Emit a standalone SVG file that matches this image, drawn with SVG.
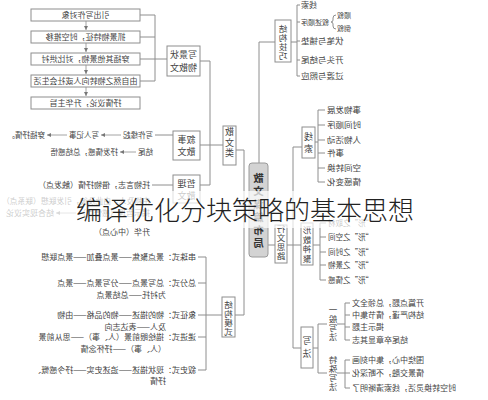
<svg xmlns="http://www.w3.org/2000/svg" width="488" height="400" viewBox="0 0 488 400">
<defs>
<style>
.b{fill:#fff;stroke:#8e8e8e;stroke-width:1}
.ctr{fill:#d3d3d3;stroke:#9a9a9a;stroke-width:1}
.c{fill:none;stroke:#8e8e8e;stroke-width:1}
.a{fill:none;stroke:#8e8e8e;stroke-width:0.8;marker-end:url(#ah)}
text{font-family:"Noto Sans CJK SC","Noto Sans",sans-serif;fill:#444;font-size:8px}
.m{text-anchor:middle}
.e{text-anchor:end}
.v{writing-mode:vertical-rl;text-orientation:upright;text-anchor:middle}
.s7{font-size:7px}
.s75{font-size:7.5px}
.s85{font-size:8.5px}
.s9{font-size:9px}
.big{font-size:10.5px;font-weight:700;fill:#333}
</style>
<marker id="ah" viewBox="0 0 6 6" refX="6" refY="3" markerWidth="4" markerHeight="4" markerUnits="userSpaceOnUse" orient="auto"><path d="M0,0L6,3L0,6z" fill="#777"/></marker>
</defs>
<rect width="488" height="400" fill="#fff"/>
<g transform="matrix(-1 0 0 1 488 0)">
<g id="connectors">
<path class="c" d="M348,15H333M348,37H333M348,59H321M348,81H333M333,15V81"/>
<path class="a" d="M402,21V30"/><path class="a" d="M402,43V52"/><path class="a" d="M402,65V74"/><path class="a" d="M402,87V96"/>
<path class="c" d="M288,61H278M278,61V185M288,145H265M288,185H278"/>
<path class="c" d="M252,150H244M244,150V315M244,210H239M253,315H244"/>
<path class="c" d="M229,42V163M229,42H213"/>
<path class="c" d="M197,42H191M191,5V76M191,5H188M191,22H188M191,41H188M191,60H188M191,76H188"/>
<path class="c" d="M152,15Q155,15 155,18V20Q155,22 157,22Q155,22 155,24V26Q155,29 152,29" stroke-width="0.8"/>
<path class="c" d="M220,245H213M201,245H187M195,147V348M195,147H186M195,348H187"/>
<path class="c" d="M173,142H170M170,110V182M170,110H163M170,125H163M170,140H163M170,153H163M170,168H163M170,182H163"/>
<path class="c" d="M175,245H168M168,223V280M168,223H162M168,237H162M168,252H162M168,265H162M168,280H162"/>
<path class="c" d="M175,348H170M170,324V373M170,324H161M170,373H161M151,324H143M151,373H143M143,303V340M143,360V388M143,303H138M143,315H138M143,327H138M143,340H138M143,360H138M143,373H138M143,388H138"/>
<path class="c" d="M266,315H282M282,257V370M282,257H290M282,283H290M282,315H290M282,337H290M282,370H290"/>
<path class="c" d="M315,135H333M315,185H336"/>
<path class="a" d="M367,135H387"/><path class="a" d="M421,135H441"/><path class="a" d="M352,152H368"/><path class="a" d="M412,213H432"/>
</g>
<g id="step1"><rect class="b" x="348" y="9" width="109" height="12"/><text class="m" x="402.5" y="18">引出写作对象</text></g>
<g id="step2"><rect class="b" x="348" y="31" width="109" height="12"/><text class="m" x="402.5" y="40">抓景物特征，时空推移</text></g>
<g id="step3"><rect class="b" x="348" y="53" width="109" height="12"/><text class="m" x="402.5" y="62">穿插其他景物，对比烘衬</text></g>
<g id="step4"><rect class="b" x="348" y="75" width="109" height="12"/><text class="m" x="402.5" y="84">由自然之物转向人或社会生活</text></g>
<g id="step5"><rect class="b" x="348" y="97" width="109" height="12"/><text class="m" x="402.5" y="106">抒情议论，升华主旨</text></g>
<g id="xiejing"><rect class="b" x="288" y="46" width="33" height="30"/><text class="m s9" x="304.5" y="58">写景状</text><text class="m s9" x="304.5" y="71">物散文</text></g>
<g id="xushi"><rect class="b" x="288" y="131" width="27" height="29"/><text class="m s9" x="301.5" y="143">叙事</text><text class="m s9" x="301.5" y="155">散文</text>
<text class="s75" x="335" y="138">写作缘起</text><text class="s75" x="389" y="138">写人记事</text><text class="s75" x="443" y="138">穿插抒情。</text>
<text class="s75" x="335" y="155">结尾</text><text class="s75" x="370" y="155">抒发情感，总结感悟</text></g>
<g id="zheli"><rect class="b" x="288" y="175" width="27" height="28"/><text class="m s9" x="301.5" y="187">哲理</text><text class="m s9" x="301.5" y="199">散文</text>
<text x="338" y="188">托物言志，借物抒情（触发点）</text>
<text x="338" y="204" style="font-size:7.8px">由物及人，由此及彼，引发联想（联系点）</text>
<text x="338" y="216">揭示哲理（感悟点）</text><text x="434" y="216">结合现实议论</text>
<text x="338" y="235">升华（中心点）</text></g>
<g id="leixing"><rect class="b" x="252" y="126" width="13" height="39"/><text class="v s9" x="258.5" y="143.2" letter-spacing="1.5">散文类</text></g>
<g id="center"><rect class="ctr" x="220" y="163" width="19" height="94" rx="3"/><text class="v big" x="229.5" y="211.7" letter-spacing="2.5">散文谋篇布局</text></g>
<g id="jiegoujiqiao"><rect class="b" x="197" y="20" width="16" height="42"/><text class="v s85" x="205" y="42.5" letter-spacing="0.5">结构技巧</text>
<text class="e" x="187" y="8">线索</text>
<text class="e s7" x="187" y="25">叙述顺序</text>
<text class="e s7" x="151" y="18">顺叙</text><text class="e s7" x="151" y="31">倒叙</text>
<text class="e s85" x="187" y="44">伏笔与铺垫</text>
<text class="e s85" x="187" y="63">开头与结尾</text>
<text class="e s85" x="187" y="79">过渡与照应</text></g>
<g id="xingwen"><rect class="b" x="201" y="225" width="12" height="38"/><text class="v s85" x="207" y="242.5" letter-spacing="0.5">行文思路</text></g>
<g id="xiansuo"><rect class="b" x="173" y="127" width="13" height="31"/><text class="v s9" x="179.5" y="144" letter-spacing="3">线索</text>
<text class="e s85" x="161" y="113">事物发展</text>
<text class="e s85" x="161" y="128">时间顺序</text>
<text class="e s85" x="161" y="143">人物活动</text>
<text class="e s85" x="161" y="156">事件</text>
<text class="e s85" x="161" y="171">空间转换</text>
<text class="e s85" x="161" y="185">情感变化</text></g>
<g id="xingshen"><rect class="b" x="175" y="223" width="12" height="42"/><text class="v s85" x="181" y="245" letter-spacing="1.2">形散神聚</text>
<text class="e s75" x="160" y="226">“形”之取材</text>
<text class="e s75" x="160" y="240">“形”之空间</text>
<text class="e s75" x="160" y="255">“形”之时间</text>
<text class="e s75" x="160" y="268">“形”之景物</text>
<text class="e s75" x="160" y="283">“形”之情感</text></g>
<g id="xiefa"><rect class="b" x="175" y="327" width="12" height="41"/><text class="v s9" x="181" y="349.5" letter-spacing="4">写法</text>
<text class="v s85" x="155" y="323.5" letter-spacing="0.5">一般写法</text>
<text class="v s85" x="155" y="373.5" letter-spacing="0.5">特殊写法</text>
<text class="e" x="136" y="306">开篇点题，总领全文</text>
<text class="e" x="136" y="318">结构严谨，情节集中</text>
<text class="e" x="136" y="330">揭示主题</text>
<text class="e" x="136" y="343">结尾卒章显其志</text>
<text class="e" x="136" y="363">围绕中心，集中刻画</text>
<text class="e" x="136" y="376">情景交融，不断深化</text>
<text class="e" x="136" y="391">时空转换灵活，线索清晰明了</text></g>
<g id="jiegoumoshi"><rect class="b" x="253" y="297" width="13" height="40"/><text class="v s85" x="259.5" y="318.5" letter-spacing="0.5">结构模式</text>
<text x="292" y="260">串珠式：景点聚焦——景点叠加——景点联想</text>
<text x="292" y="286">总分式：总写景点——分写景点——景点</text>
<text x="322" y="298">为衬托——总结景点</text>
<text x="292" y="318">象征式：物的描述——物的品格——由物</text>
<text x="322" y="330">及人——表达志向</text>
<text x="292" y="340">递进式：描绘眼前景（人、事）——思从前景</text>
<text x="322" y="352">（人、事）——抒怀念情</text>
<text x="292" y="373">叙史式：现状描述——追述史实——抒今感慨、</text>
<text x="322" y="384">抒情</text></g>
</g>
<rect x="0" y="191" width="488" height="37" fill="#fff" fill-opacity="0.72"/>
<text x="76" y="220" style="font-family:'Noto Sans CJK SC',sans-serif;font-size:26px;font-weight:300;fill:#222">编译优化分块策略的基本思想</text>
</svg>
